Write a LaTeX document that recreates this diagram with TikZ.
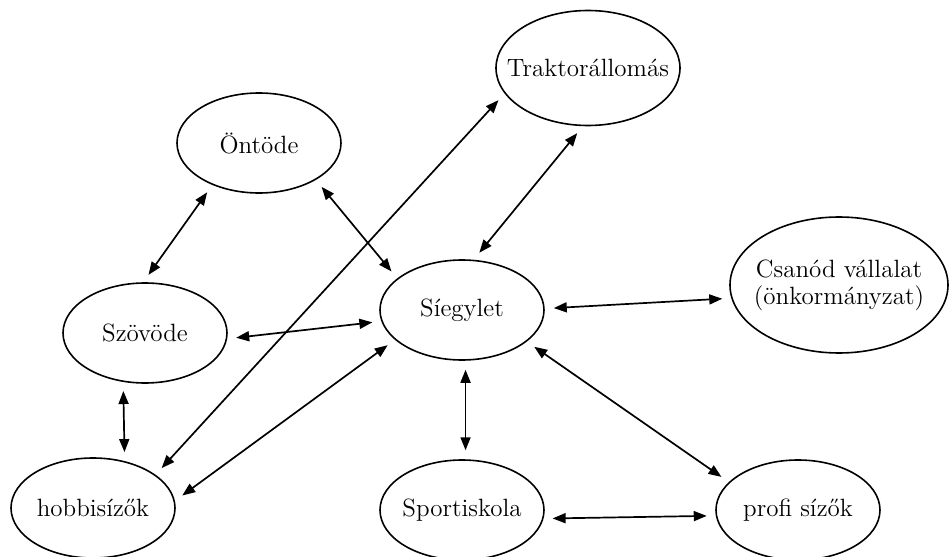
\documentclass[tikz,border=0pt]{standalone}
\usepackage{tikz}
\usetikzlibrary{positioning,shapes.geometric,arrows.meta}

\begin{document}
\begin{tikzpicture}[x=0.5pt, y=-0.5pt, >={Triangle[length=6.5pt,width=5pt]},
    szerv/.style={ellipse, draw, line width=0.8pt, inner xsep=-8pt, inner ysep=0pt, minimum width=82pt, minimum height=50pt, align=center, font=\fontsize{12.5}{13.5}\selectfont},
    kapcs/.style={<->, line width=0.85pt, shorten <=4.5pt, shorten >=4.5pt}]
\useasboundingbox (0,0) rectangle (950,557);

% Csomópontok
\node (traktor) [szerv, minimum width=92pt, minimum height=57.5pt] at (588, 68) {Traktorállomás};
\node (ontode) [szerv] at (259, 143) {Öntöde};
\node (siegylet) [szerv] at (462, 310) {Síegylet};
\node (csanod) [szerv, minimum width=109pt, minimum height=68pt] at (839, 285) {Csanód vállalat\\(önkormányzat)};
\node (szovode) [szerv] at (145, 333) {Szövöde};
\node (hobbi) [szerv] at (93, 508) {hobbisízők};
\node (sport) [szerv] at (462, 510) {Sportiskola};
\node (profi) [szerv] at (798, 510) {profi sízők};

% Kapcsolatok
\draw [kapcs] (ontode.222) -- (szovode.92);
\draw [kapcs] (ontode.327) -- (siegylet.154);
\draw [kapcs] (traktor.197) -- (hobbi.28);
\draw [kapcs] (traktor.265) -- (siegylet.77);
\draw [kapcs] (szovode.356) -- (siegylet.188);
\draw [kapcs] (siegylet.1) -- (csanod.187);
\draw [kapcs] (szovode.246.5) -- (hobbi.56.2);
\draw [kapcs] (hobbi.5) -- (siegylet.204);
\draw [kapcs] (siegylet.274) -- (sport.86);
\draw [kapcs] (siegylet.334) -- (profi.158);
\draw [kapcs] (sport.354) -- (profi.184);
\end{tikzpicture}
\end{document}
